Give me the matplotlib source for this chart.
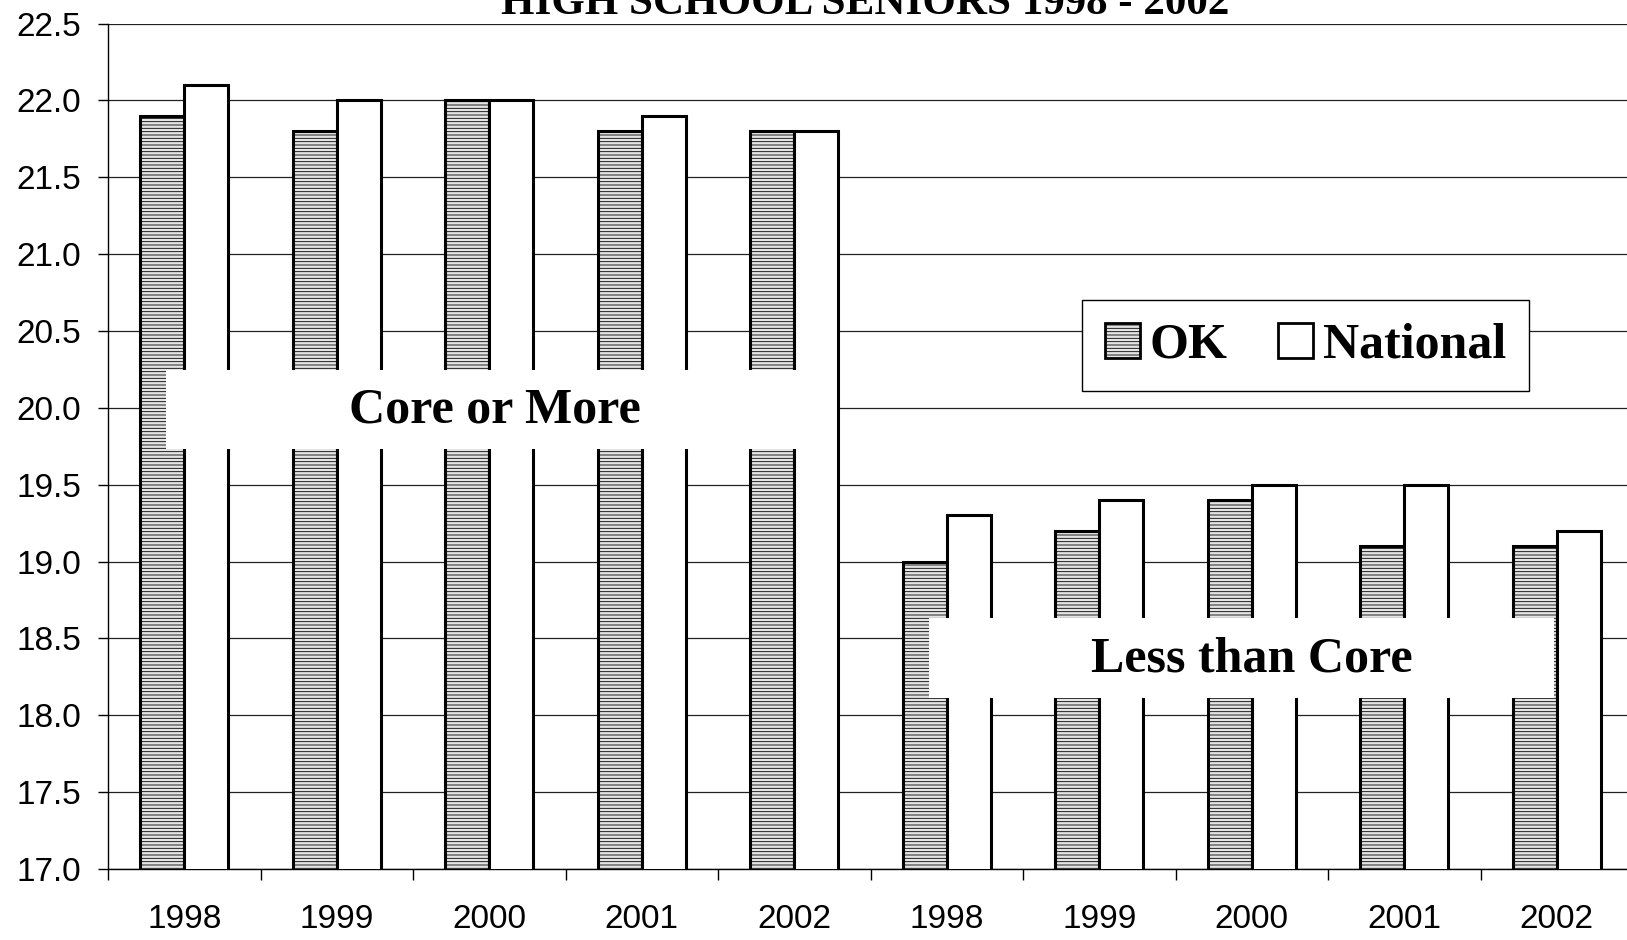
import numpy as np
import matplotlib
matplotlib.use('Agg')
from matplotlib import pyplot as plt
from matplotlib.patches import Rectangle, Patch

years = ['1998', '1999', '2000', '2001', '2002']
core_ok = [21.9, 21.8, 22.0, 21.8, 21.8]
core_national = [22.1, 22.0, 22.0, 21.9, 21.8]
less_ok = [19.0, 19.2, 19.4, 19.1, 19.1]
less_national = [19.3, 19.4, 19.5, 19.5, 19.2]

tick_labels = years + years
ok_values = core_ok + less_ok
national_values = core_national + less_national

plt.rcParams['hatch.linewidth'] = 0.6
plt.rcParams['hatch.color'] = '#959595'

serif = ['Liberation Serif', 'DejaVu Serif']
sans = ['Liberation Sans', 'DejaVu Sans']

fig = plt.figure(figsize=(16.27, 9.40), dpi=100)
ax = fig.add_axes([108 / 1627, 1 - 869 / 940, 1525 / 1627, 845.5 / 940])

x = np.arange(len(tick_labels))
w = 0.287

ax.bar(x - w / 2, ok_values, w, color='#e4e4e4', edgecolor='black',
       linewidth=2.2, hatch='-----', zorder=3)
ax.bar(x + w / 2, national_values, w, color='white', edgecolor='black',
       linewidth=2.2, zorder=3)

ax.set_xlim(-0.5, len(tick_labels) - 0.5)
ax.set_ylim(17.0, 22.5)
ax.set_yticks(np.arange(17.0, 22.51, 0.5))
ax.set_yticklabels([f'{v:.1f}' for v in np.arange(17.0, 22.51, 0.5)],
                   family=sans, fontsize=24)
ax.set_xticks(x)
ax.set_xticklabels(tick_labels, family=sans, fontsize=24)
ax.set_xticks(np.arange(-0.5, len(tick_labels)), minor=True)
ax.tick_params(axis='x', which='major', length=0, pad=25)
ax.tick_params(axis='x', which='minor', length=8, width=1, direction='out')
ax.tick_params(axis='y', length=7.5, width=1, pad=12)

ax.yaxis.grid(True, color='#222222', linewidth=0.9, zorder=0)
ax.set_axisbelow(True)
for s in ['top', 'right']:
    ax.spines[s].set_visible(False)
for s in ['left', 'bottom']:
    ax.spines[s].set_linewidth(1)

# group label boxes
ax.add_patch(Rectangle((-0.12, 19.733), 4.387, 0.514, facecolor='white',
                       edgecolor='none', zorder=5))
ax.text(2.04, 19.98, 'Core or More', family=serif, weight='bold', fontsize=36,
        ha='center', va='center', zorder=6)
ax.add_patch(Rectangle((4.884, 18.115), 4.1, 0.52, facecolor='white',
                       edgecolor='none', zorder=5))
ax.text(7.0, 18.365, 'Less than Core', family=serif, weight='bold', fontsize=36,
        ha='center', va='center', zorder=6)

handles = [Patch(facecolor='#e4e4e4', edgecolor='black', linewidth=2, hatch='-----'),
           Patch(facecolor='white', edgecolor='black', linewidth=2)]
leg = fig.legend(handles, ['OK', 'National'], loc='center',
                 bbox_to_anchor=(1305.5 / 1627, 1 - 346 / 940), ncol=2,
                 prop={'family': serif, 'weight': 'bold', 'size': 36},
                 handlelength=0.7, handleheight=0.7, handletextpad=0.2,
                 columnspacing=1.0, borderpad=0.45, fancybox=False,
                 framealpha=1, edgecolor='black')
leg.get_frame().set_linewidth(1)

fig.text(865 / 1627, 1 - 14.5 / 940, 'HIGH SCHOOL SENIORS 1998 - 2002',
         family=serif, weight='bold', fontsize=31, ha='center', va='baseline')

fig.savefig('out.png', dpi=100)
